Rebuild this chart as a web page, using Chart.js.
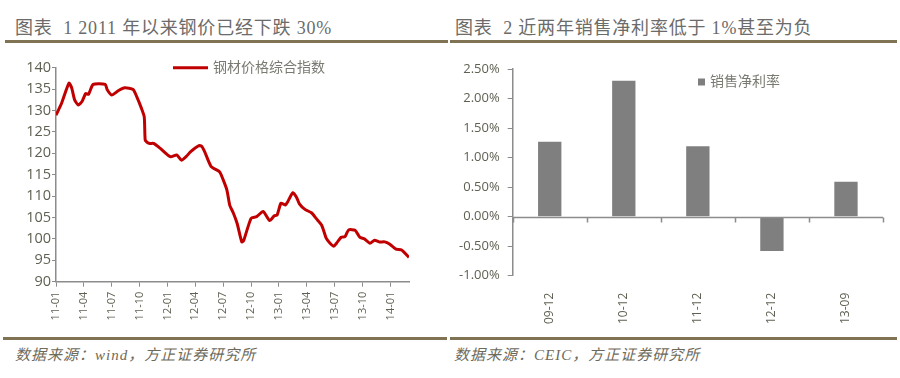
<!DOCTYPE html>
<html>
<head>
<meta charset="utf-8">
<script src="https://cdn.jsdelivr.net/npm/chart.js@4.4.1/dist/chart.umd.min.js"></script>
<style>
  body { margin: 0; background: #fff; }
  #page { position: relative; width: 900px; height: 378px; overflow: hidden; }
  .title { position: absolute; top: 19px; font: 18px "Liberation Serif", "Noto Sans CJK SC", serif; color: #6b6b6b; white-space: nowrap; letter-spacing: 0.8px; line-height: 18px; }
  .rule { position: absolute; height: 3px; background: #7f7353; }
  .source { position: absolute; top: 347px; font: italic 15px "Liberation Serif", "Noto Sans CJK SC", serif; color: #6e6a5a; white-space: nowrap; line-height: 16px; letter-spacing: 1px; }
  canvas { position: absolute; top: 50px; }
</style>
</head>
<body>
<div id="page">
  <div class="title" style="left:15px">图表&nbsp; 1 2011 年以来钢价已经下跌 30%</div>
  <div class="title" style="left:455px">图表&nbsp; 2 近两年销售净利率低于 1%甚至为负</div>
  <div class="rule" style="left:5px; width:443px; top:40px"></div>
  <div class="rule" style="left:450px; width:447px; top:40px"></div>
  <canvas id="steelChart" width="450" height="285" style="left:0"></canvas>
  <canvas id="marginChart" width="450" height="285" style="left:450px"></canvas>
  <div class="rule" style="left:3px; width:444px; top:337px"></div>
  <div class="rule" style="left:450px; width:447px; top:337px"></div>
  <div class="source" style="left:15px">数据来源：wind，方正证券研究所</div>
  <div class="source" style="left:454px">数据来源：CEIC，方正证券研究所</div>
</div>
<script>
// steel price index, months counted from 2011-01
const steelMonths = [0, 0.6, 1.4, 1.7, 2.0, 2.4, 2.8, 3.2, 3.5, 4.0, 5.3, 5.5, 6.0, 6.7, 7.4, 8.3, 8.7, 9.2, 9.5, 9.6, 9.8, 10.1, 10.5, 11.2, 12.3, 13.0, 13.5, 14.0, 14.5, 15.4, 15.7, 16.0, 16.7, 17.6, 18.0, 18.4, 18.7, 19.1, 19.5, 20.0, 20.2, 21.0, 21.6, 22.3, 23.0, 23.5, 23.8, 24.2, 24.5, 24.7, 24.95, 25.5, 25.9, 26.2, 26.8, 27.5, 28.0, 28.6, 29.1, 29.5, 29.9, 30.2, 30.7, 31.1, 31.5, 32.2, 32.7, 33.2, 33.8, 34.3, 34.8, 35.4, 35.9, 36.6, 37.2, 38.0];
const steelIndex = [128.9, 131.7, 136.4, 135.2, 132.5, 131.3, 132.1, 134.0, 133.8, 136.1, 136.1, 134.9, 133.6, 134.6, 135.3, 134.9, 133.2, 130.5, 128.5, 123.1, 122.6, 122.3, 122.3, 121.2, 119.2, 119.6, 118.4, 119.2, 120.4, 121.8, 121.6, 120.4, 116.9, 115.7, 113.8, 111.4, 107.9, 106.0, 103.6, 99.3, 99.6, 104.8, 105.2, 106.4, 104.3, 105.4, 105.6, 108.3, 108.1, 107.9, 108.7, 110.8, 109.7, 108.2, 106.9, 106.1, 104.8, 103.2, 100.1, 99.0, 98.3, 99.0, 100.4, 100.5, 102.1, 102.0, 100.4, 100.0, 99.0, 99.7, 99.3, 99.3, 98.8, 97.6, 97.4, 95.7];
const steelTickLabels = ['11-01', '11-04', '11-07', '11-10', '12-01', '12-04', '12-07', '12-10', '13-01', '13-04', '13-07', '13-10', '14-01'];

// net profit margin, percent
const marginPeriods = ['09-12', '10-12', '11-12', '12-12', '13-09'];
const marginValues = [1.27, 2.30, 1.19, -0.58, 0.59];

const tickColor = '#5f5f52';
const axisColor = '#8c8c8c';

// small legend drawn inside the plot, from dataset label/colour
const innerLegend = {
  id: 'innerLegend',
  afterDraw(chart, args, opts) {
    const ds = chart.data.datasets[0];
    const ctx = chart.ctx;
    ctx.save();
    if (opts.kind === 'line') {
      ctx.strokeStyle = ds.borderColor;
      ctx.lineWidth = 3;
      ctx.beginPath();
      ctx.moveTo(opts.x, opts.y);
      ctx.lineTo(opts.x + 35, opts.y);
      ctx.stroke();
    } else {
      ctx.fillStyle = ds.backgroundColor;
      ctx.fillRect(opts.x, opts.y - 3, 7, 7);
    }
    ctx.fillStyle = '#7a7a72';
    ctx.font = '14px "Noto Sans CJK SC", sans-serif';
    ctx.textBaseline = 'middle';
    ctx.fillText(ds.label, opts.x + (opts.kind === 'line' ? 40 : 12), opts.y - 1);
    ctx.restore();
  }
};

// zero line with category tick marks for the bar chart
const zeroAxis = {
  id: 'zeroAxis',
  afterDatasetsDraw(chart) {
    const x = chart.scales.x, y = chart.scales.y;
    const y0 = Math.round(y.getPixelForValue(0)) + 0.5;
    const ctx = chart.ctx;
    ctx.save();
    ctx.strokeStyle = axisColor;
    ctx.lineWidth = 1.5;
    ctx.beginPath();
    ctx.moveTo(x.left, y0);
    ctx.lineTo(x.right, y0);
    const step = (x.right - x.left) / marginPeriods.length;
    for (let i = 0; i <= marginPeriods.length; i++) {
      const px = Math.round(x.left + i * step) + 0.5;
      ctx.moveTo(px, y0);
      ctx.lineTo(px, y0 + 5);
    }
    ctx.stroke();
    ctx.restore();
  }
};

new Chart(document.getElementById('steelChart'), {
  type: 'line',
  data: {
    datasets: [{
      label: '钢材价格综合指数',
      data: steelMonths.map((m, i) => ({ x: m, y: steelIndex[i] })),
      borderColor: '#c00000',
      borderWidth: 3,
      pointRadius: 0,
      tension: 0.2
    }]
  },
  options: {
    responsive: false,
    animation: false,
    layout: { padding: { top: 17.7, right: 41, left: 0, bottom: 0 } },
    plugins: {
      legend: { display: false },
      tooltip: { enabled: false },
      innerLegend: { kind: 'line', x: 173, y: 17.7 }
    },
    scales: {
      x: {
        type: 'linear',
        min: 0,
        max: 38,
        afterFit: (s) => { s.height = 53.3; },
        border: { color: axisColor, width: 1.5 },
        grid: { drawOnChartArea: false, color: axisColor, tickLength: 5 },
        ticks: {
          stepSize: 3,
          includeBounds: false,
          minRotation: 90,
          maxRotation: 90,
          padding: 5,
          color: tickColor,
          font: { family: '"Open Sans", sans-serif', size: 11 },
          callback: (v) => steelTickLabels[v / 3]
        }
      },
      y: {
        min: 90,
        max: 140,
        afterFit: (s) => { s.width = 56; },
        border: { color: axisColor, width: 1.5 },
        grid: { drawOnChartArea: false, color: axisColor, tickLength: 4 },
        ticks: { stepSize: 5, padding: 1, color: tickColor, font: { family: '"Open Sans", sans-serif', size: 14.5 } }
      }
    }
  },
  plugins: [innerLegend]
});

new Chart(document.getElementById('marginChart'), {
  type: 'bar',
  data: {
    labels: marginPeriods,
    datasets: [{
      label: '销售净利率',
      data: marginValues,
      backgroundColor: '#7f7f7f',
      categoryPercentage: 1,
      barPercentage: 0.315
    }]
  },
  options: {
    responsive: false,
    animation: false,
    layout: { padding: { top: 19, right: 17, left: 0, bottom: 0 } },
    plugins: {
      legend: { display: false },
      tooltip: { enabled: false },
      innerLegend: { kind: 'box', x: 248, y: 31.5 }
    },
    scales: {
      x: {
        afterFit: (s) => { s.height = 59.3; },
        border: { display: false },
        grid: { display: false },
        ticks: {
          minRotation: 90,
          maxRotation: 90,
          padding: 9,
          color: tickColor,
          font: { family: '"Open Sans", sans-serif', size: 12 }
        }
      },
      y: {
        min: -1,
        max: 2.5,
        afterFit: (s) => { s.width = 62.7; },
        border: { color: axisColor, width: 1.5 },
        grid: { drawOnChartArea: false, color: axisColor, tickLength: 5 },
        ticks: {
          stepSize: 0.5,
          padding: 8,
          color: tickColor,
          font: { family: '"Open Sans", sans-serif', size: 13 },
          callback: (v) => v.toFixed(2) + '%'
        }
      }
    }
  },
  plugins: [innerLegend, zeroAxis]
});
</script>
</body>
</html>
